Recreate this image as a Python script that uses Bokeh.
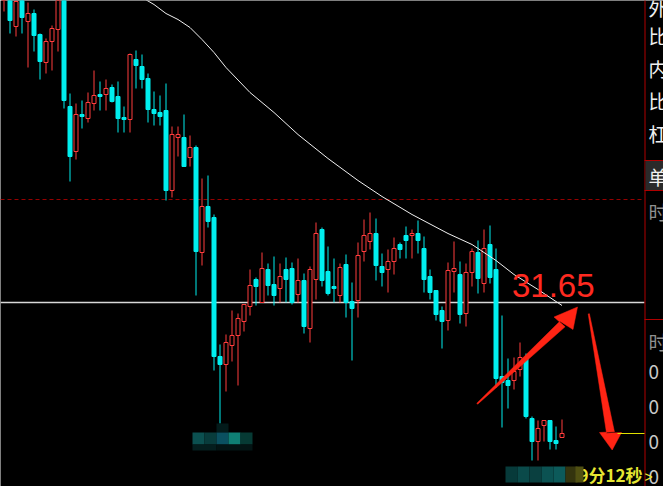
import numpy as np
from bokeh.plotting import figure
from bokeh.models import Range1d
from bokeh.core.properties import value
from bokeh.embed import file_html
from bokeh.resources import INLINE

# ---------------- data (prices) ----------------
opens = [34.70, 34.72, 34.41, 34.70, 34.46, 34.54, 34.33, 34.05, 34.26, 34.38,
         34.77, 33.61, 33.16, 33.53, 33.49, 33.64, 33.73, 33.73, 33.80, 33.71,
         33.50, 33.48, 34.08, 34.01, 33.89, 33.58, 33.55, 33.57, 32.77, 33.30,
         33.30, 33.10, 33.20, 32.15, 32.61, 32.50, 31.11, 31.03, 31.22, 31.32,
         31.46, 31.61, 31.88, 31.65, 31.98, 31.83, 31.79, 31.98, 31.99, 31.73,
         31.87, 31.39, 31.88, 32.38, 31.96, 31.81, 31.72, 32.03, 31.66, 31.67,
         32.16, 32.26, 32.34, 32.01, 31.98, 32.06, 32.23, 32.32, 32.32, 32.34,
         32.19, 31.91, 31.77, 31.57, 31.47, 31.96, 31.93, 31.54, 31.95, 32.15,
         31.84, 32.23, 31.98, 30.91, 30.87, 30.87, 30.98, 31.10, 30.49, 30.26,
         30.42, 30.47, 30.27, 30.30]
closes = [34.82, 34.47, 34.66, 34.50, 34.54, 34.32, 34.06, 34.26, 34.39, 34.72,
          33.67, 33.11, 33.53, 33.51, 33.65, 33.72, 33.71, 33.79, 33.66, 33.49,
          33.48, 34.13, 34.02, 33.88, 33.58, 33.54, 33.51, 32.77, 33.33, 33.33,
          33.01, 33.20, 32.16, 32.61, 32.46, 31.11, 31.03, 31.25, 31.32, 31.49,
          31.63, 31.82, 31.81, 31.99, 31.82, 31.72, 31.91, 31.88, 31.65, 31.87,
          31.41, 31.98, 32.34, 31.87, 31.74, 31.79, 32.00, 31.65, 31.59, 32.12,
          32.32, 32.34, 32.02, 31.95, 32.06, 32.19, 32.18, 32.27, 32.34, 32.27,
          31.88, 31.75, 31.53, 31.46, 31.97, 31.99, 31.53, 31.95, 32.16, 31.89,
          32.19, 31.90, 30.89, 30.85, 30.82, 30.96, 31.10, 30.51, 30.26, 30.39,
          30.47, 30.26, 30.24, 30.34]
highs = [34.87, 34.75, 34.69, 34.72, 34.65, 34.58, 34.34, 34.29, 34.42, 34.77,
         34.82, 33.74, 33.64, 33.67, 33.75, 33.97, 33.86, 33.88, 33.83, 33.86,
         33.61, 34.14, 34.17, 34.13, 33.94, 33.76, 33.72, 33.84, 33.41, 33.41,
         33.53, 33.32, 33.22, 32.89, 32.92, 32.53, 31.23, 31.33, 31.57, 31.54,
         31.63, 31.98, 31.90, 32.15, 32.04, 32.11, 32.04, 32.10, 32.05, 32.09,
         31.94, 32.01, 32.45, 32.40, 32.21, 32.09, 32.04, 32.13, 31.85, 32.25,
         32.48, 32.55, 32.49, 32.14, 32.18, 32.30, 32.25, 32.41, 32.38, 32.47,
         32.31, 31.98, 31.77, 31.61, 32.05, 32.26, 32.06, 32.04, 32.19, 32.27,
         32.38, 32.42, 32.19, 31.52, 31.09, 31.10, 31.25, 31.14, 30.51, 30.47,
         30.47, 30.47, 30.41, 30.48]
lows = [34.56, 34.34, 34.31, 34.34, 34.00, 34.16, 33.88, 33.94, 33.97, 34.16,
        33.59, 32.86, 33.08, 33.39, 33.45, 33.57, 33.57, 33.57, 33.65, 33.35,
        33.35, 33.35, 33.79, 33.79, 33.45, 33.42, 33.42, 32.67, 32.70, 33.11,
        33.01, 33.01, 31.72, 32.02, 32.40, 30.97, 30.44, 30.76, 31.06, 30.82,
        31.36, 31.52, 31.62, 31.65, 31.72, 31.62, 31.65, 31.65, 31.63, 31.65,
        31.34, 31.25, 31.68, 31.81, 31.72, 31.65, 31.65, 31.50, 31.07, 31.50,
        32.06, 32.18, 31.87, 31.81, 31.75, 31.93, 32.09, 32.09, 32.09, 32.14,
        31.75, 31.68, 31.47, 31.19, 31.37, 31.75, 31.44, 31.41, 31.81, 31.74,
        31.75, 31.84, 30.80, 30.40, 30.59, 30.78, 30.91, 30.49, 30.07, 30.07,
        30.26, 30.18, 30.18, 30.30]

ma_idx = [23, 25, 27, 29, 31, 33, 35, 37, 41, 45, 49, 54, 59, 63, 68, 74, 78, 82, 85, 89, 93]
ma_val = [34.70, 34.63, 34.54, 34.48, 34.40, 34.28, 34.15, 34.00, 33.75, 33.55, 33.33,
          33.09, 32.87, 32.71, 32.53, 32.34, 32.23, 32.07, 31.93, 31.78, 31.62]

level = 31.65          # marked price line
dash_level = 32.68     # dashed reference line
level_label = "31.65"
timer_label = "9分12秒"
side_labels = ["外", "比", "内", "比", "杠", "单", "时", "时", "0", "0", "0", "0"]

# ---------------- geometry helpers (screen pixel -> data) ----------------
def fx(px):
    return (px - 3.5) / 6.0

def fy(py):
    return 34.67 - py / 100.0

W, H = 663, 486
p = figure(width=W, height=H, x_range=Range1d(fx(0), fx(W)),
           y_range=Range1d(fy(H), fy(0)), output_backend="svg",
           toolbar_location=None, min_border=0, x_axis_location=None,
           y_axis_location=None, background_fill_color="black",
           border_fill_color="black", outline_line_color=None)
p.grid.visible = False

CYAN = "#00eeee"
RED = "#ff3c3c"

idx = np.arange(len(opens))
o = np.array(opens); c = np.array(closes); h = np.array(highs); l = np.array(lows)
up = c >= o
cols = [RED if u else CYAN for u in up]

# reference lines
p.segment(x0=[fx(0)], y0=[dash_level], x1=[fx(644)], y1=[dash_level],
          line_color="#960000", line_width=1, line_dash="4 3")
p.segment(x0=[fx(0)], y0=[level], x1=[fx(644)], y1=[level],
          line_color="#d8d8d8", line_width=1.5)

# wicks
p.segment(x0=idx, y0=l, x1=idx, y1=h, line_color=cols, line_width=1)
# bodies
dn = ~up
BW = 4.0 / 6.0
p.vbar(x=idx[dn], width=BW, top=o[dn], bottom=c[dn], fill_color=CYAN, line_color=CYAN)
p.vbar(x=idx[up], width=BW, top=c[up], bottom=o[up], fill_color="black", line_color=RED, line_width=1)

# moving average
p.line(ma_idx, ma_val, line_color="#f0f0f0", line_width=1)

# redaction mosaics
def block(x0, x1, y0, y1, col):
    p.quad(left=[fx(x0)], right=[fx(x1)], top=[fy(y0)], bottom=[fy(y1)],
           fill_color=col, line_color=None)

block(216, 228, 423, 432, "#031a1a")
for x0, colr in zip([192, 204, 216, 228, 240], ["#0b5050", "#083c3c", "#0a5060", "#0f7f74", "#063a34"]):
    block(x0, x0 + 12, 432, 444, colr)
block(192, 216, 444, 450, "#041e1e")
block(216, 252, 444, 450, "#031414")

# timer text + mosaic
p.text(x=[fx(578)], y=[fy(474)], text=[timer_label], text_color="#e6e632",
       text_font=value("Noto Sans CJK SC"), text_font_size="17px",
       text_baseline="middle", text_align="left", text_font_style="bold")
for x0, colr in zip([505, 517, 529, 541, 553, 565, 575],
                    ["#073a3a", "#0a4a4a", "#0a4040", "#0b5252", "#0c5a5a", "#34340e", "#505012"]):
    block(x0, x0 + 12 if x0 < 575 else 583, 466, 482, colr)

# label 31.65
p.text(x=[fx(511.5)], y=[fy(285)], text=[level_label], text_color="#ff2a20",
       text_font=value("Liberation Sans"), text_font_size="33px",
       text_baseline="alphabetic", text_align="left")

# arrows
def arrow(tail, base, tip, c1, c2, w_tail, w_head):
    t = np.array(tail, float); b = np.array(base, float)
    d = b - t; d /= np.linalg.norm(d)
    perp = np.array([-d[1], d[0]])
    pts = [t - perp * w_tail, b - perp * w_head, c1, tip, c2, b + perp * w_head, t + perp * w_tail]
    xs = [fx(pt[0]) for pt in pts]
    ys = [fy(pt[1]) for pt in pts]
    p.patch(xs, ys, fill_color="#ff2414", line_color="#ff2414", line_width=0.5)

arrow((476.7, 403.3), (562.0, 323.5), (577.0, 306.5), (572.5, 329.0), (553.5, 316.5), 0.6, 3.8)
arrow((588.3, 313.3), (610.0, 432.0), (611.7, 449.5), (599.0, 432.0), (621.0, 432.0), 0.6, 4.0)

# right side panel
p.segment(x0=[fx(644.5)], y0=[fy(-5)], x1=[fx(644.5)], y1=[fy(490)], line_color="#b00000", line_width=1)
block(645, 670, 160, 190, "#2a2a2a")
for yy in [160, 190, 319]:
    p.segment(x0=[fx(644)], y0=[fy(yy)], x1=[fx(670)], y1=[fy(yy)], line_color="#b00000", line_width=1)
p.segment(x0=[fx(617)], y0=[fy(433)], x1=[fx(644)], y1=[fy(433)], line_color="#e0e000", line_width=1)
side_y = [7, 35, 68, 100, 133, 176, 211, 341, 371, 406, 441, 476]
side_c = ["#f0f0f0"] * 6 + ["#909090", "#909090"] + ["#c8c8c8"] * 4
p.text(x=[fx(648)] * len(side_labels), y=[fy(v) for v in side_y], text=side_labels,
       text_color=side_c, text_font=value("Noto Sans CJK SC"), text_font_size="19px",
       text_baseline="middle", text_align="left")
p.text(x=[fx(644)], y=[fy(476)], text=[">"], text_color="#e6e632",
       text_font=value("Liberation Sans"), text_font_size="14px",
       text_baseline="middle", text_align="left")

open("out.html", "w").write(file_html(p, INLINE))
